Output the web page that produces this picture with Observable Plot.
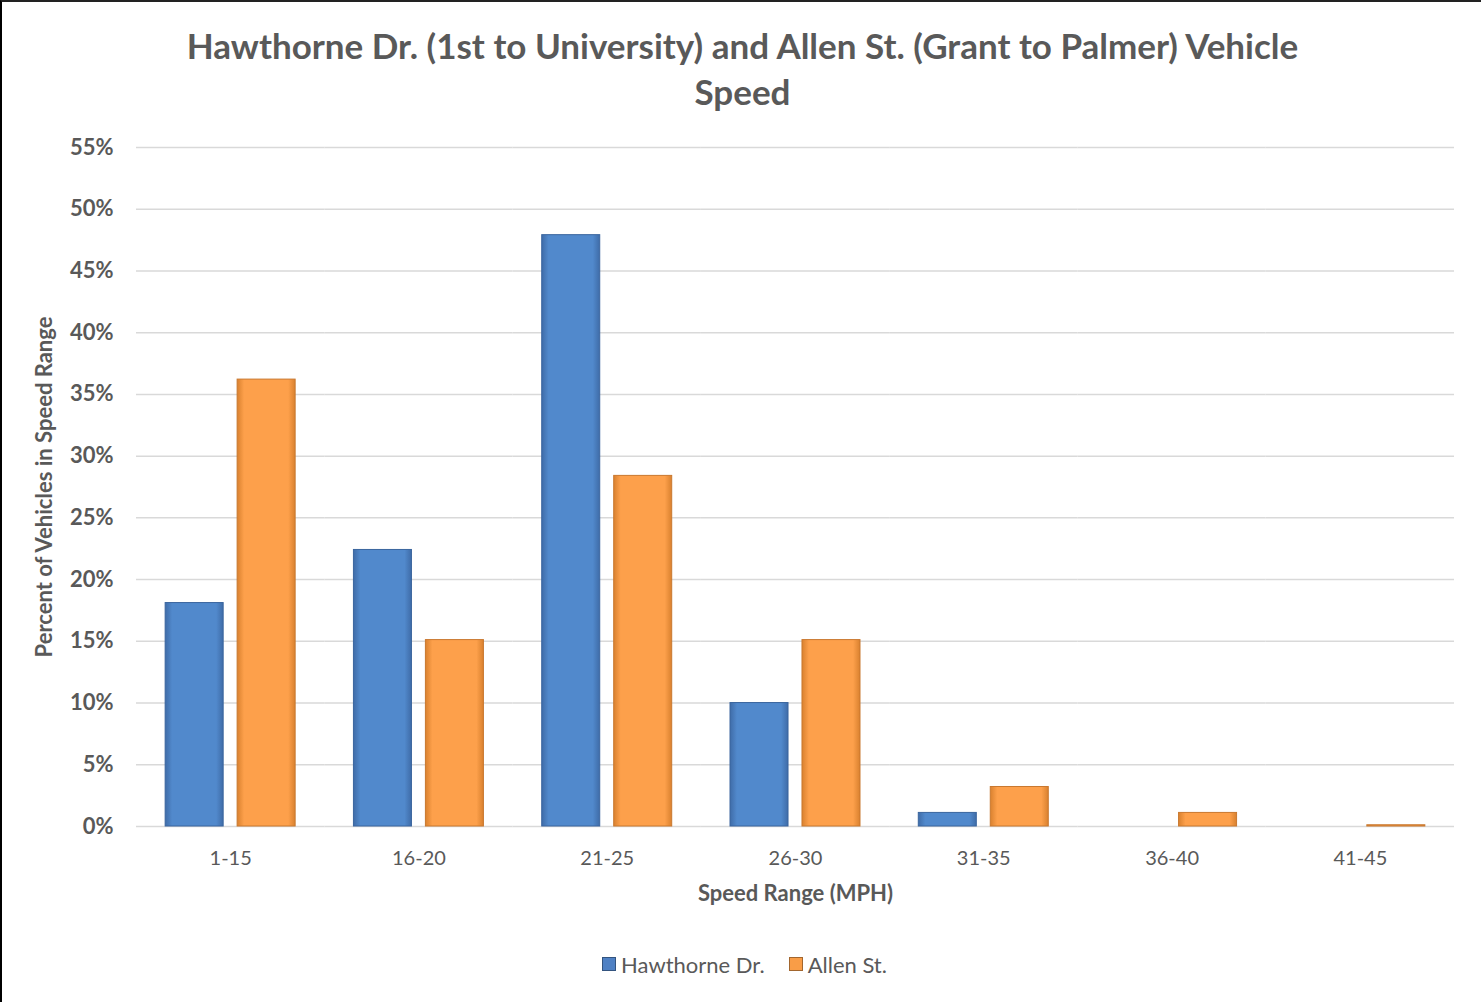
<!DOCTYPE html>
<html>
<head>
<meta charset="utf-8">
<script src="https://cdn.jsdelivr.net/npm/d3@7"></script>
<script src="https://cdn.jsdelivr.net/npm/@observablehq/plot@0.6"></script>
<style>
  html, body { margin: 0; padding: 0; background: #fff; overflow: hidden; }
  #frame { position: absolute; left: 0; top: 0; width: 1495px; height: 1015px; border-left: 2px solid #000; border-top: 2px solid #222; box-sizing: border-box; font-family: Lato, "Open Sans", sans-serif; }
  #title { position: absolute; left: 0; top: 20px; width: 1481px; text-align: center; font-size: 35px; font-weight: bold; color: #595959; line-height: 46px; }
  #chart { position: absolute; left: -2px; top: 116px; }
  #legend { position: absolute; left: 0; top: 947px; width: 1485px; text-align: center; font-size: 22px; color: #595959; }
  #legend span.item { margin: 0 12px; display: inline-flex; align-items: center; }
  #legend span.sw { display: inline-block; width: 14px; height: 14px; margin-right: 5px; border: 1px solid rgba(0,0,0,0.35); box-sizing: border-box; }
  svg text { font-family: Lato, "Open Sans", sans-serif; }
  g[aria-label="y-axis tick label"] text { font-weight: bold; font-size: 22px; }
  g[aria-label="y-axis label"] text { font-weight: bold; font-size: 22px; }
  g[aria-label="fx-axis label"] text { font-weight: bold; font-size: 22px; }
</style>
</head>
<body>
<div id="frame">
  <div id="title">Hawthorne Dr. (1st to University) and Allen St. (Grant to Palmer) Vehicle<br>Speed</div>
  <div id="chart"></div>
  <div id="legend"></div>
</div>
<svg width="0" height="0" style="position:absolute">
  <defs>
    <linearGradient id="gH" x1="0" x2="1" y1="0" y2="0">
      <stop offset="0" stop-color="#3F6CA8"/>
      <stop offset="0.12" stop-color="#5189CC"/>
      <stop offset="0.88" stop-color="#5189CC"/>
      <stop offset="1" stop-color="#3F6CA8"/>
    </linearGradient>
    <linearGradient id="gA" x1="0" x2="1" y1="0" y2="0">
      <stop offset="0" stop-color="#D9812F"/>
      <stop offset="0.12" stop-color="#FDA04B"/>
      <stop offset="0.88" stop-color="#FDA04B"/>
      <stop offset="1" stop-color="#D9812F"/>
    </linearGradient>
  </defs>
</svg>
<script>
const categories = ["1-15", "16-20", "21-25", "26-30", "31-35", "36-40", "41-45"];
const seriesNames = ["Hawthorne Dr.", "Allen St."];
const hawthorne = [18.1, 22.4, 47.9, 10.0, 1.1, 0, 0];
const allen = [36.2, 15.1, 28.4, 15.1, 3.2, 1.1, 0.1];
const yTicks = [0, 5, 10, 15, 20, 25, 30, 35, 40, 45, 50, 55];
const colors = ["#4F81C4", "#F99D47"];
const fills = ["url(#gH)", "url(#gA)"];
const strokes = ["#3A659E", "#C9782F"];

const data = [];
categories.forEach((c, i) => {
  data.push({category: c, series: seriesNames[0], value: hawthorne[i]});
  data.push({category: c, series: seriesNames[1], value: allen[i]});
});

const chart = Plot.plot({
  width: 1483,
  height: 800,
  marginLeft: 136,
  marginRight: 29,
  marginTop: 29,
  marginBottom: 92,
  style: {fontSize: "20px", color: "#595959", background: "transparent"},
  fx: {
    domain: categories,
    padding: 0,
    round: false,
    label: "Speed Range (MPH)",
    labelAnchor: "center",
    labelOffset: 74,
    tickSize: 0,
    tickPadding: 24
  },
  x: {domain: seriesNames, axis: null, round: false, paddingInner: 0.194, paddingOuter: 0.405},
  y: {
    domain: [0, 55],
    ticks: yTicks,
    tickFormat: d => d + "%",
    tickSize: 0,
    tickPadding: 23,
    label: "Percent of Vehicles in Speed Range",
    labelArrow: "none",
    labelAnchor: "center",
    labelOffset: 100
  },
  marks: [
    Plot.ruleY(yTicks, {stroke: "#D9D9D9", strokeWidth: 1.5}),
    Plot.barY(data, {fx: "category", x: "series", y: "value",
      fill: d => d.series === seriesNames[0] ? fills[0] : fills[1],
      stroke: d => d.series === seriesNames[0] ? strokes[0] : strokes[1], strokeWidth: 1})
  ]
});
document.getElementById("chart").appendChild(chart);

const legend = document.getElementById("legend");
seriesNames.forEach((s, i) => {
  const item = document.createElement("span");
  item.className = "item";
  const sw = document.createElement("span");
  sw.className = "sw";
  sw.style.background = colors[i];
  item.appendChild(sw);
  item.appendChild(document.createTextNode(s));
  legend.appendChild(item);
});
</script>
</body>
</html>
